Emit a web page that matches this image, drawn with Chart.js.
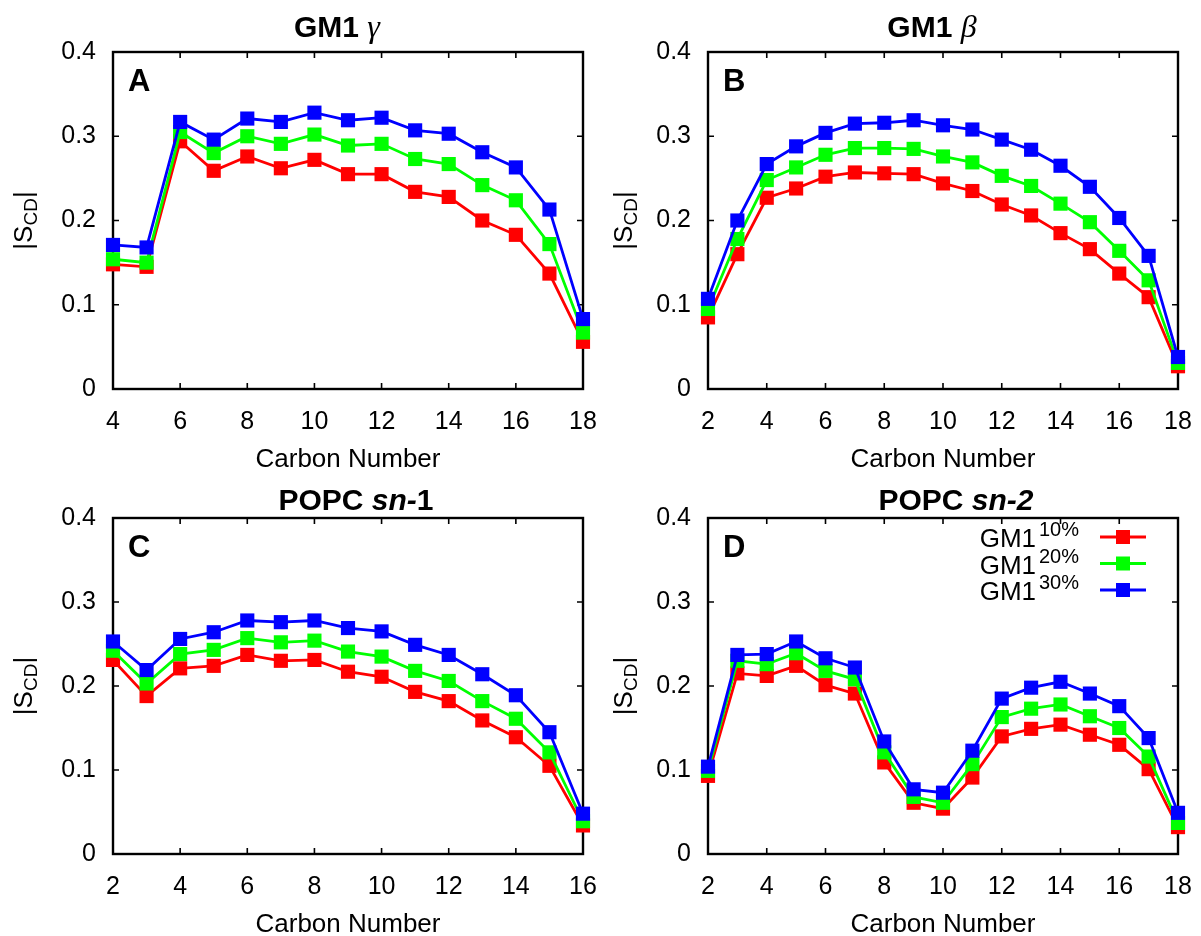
<!DOCTYPE html>
<html lang="en">
<head>
<meta charset="UTF-8">
<title>|S_CD| order parameters</title>
<script src="https://cdn.jsdelivr.net/npm/chart.js@4.4.1/dist/chart.umd.min.js"></script>
<style>
    body { margin: 0; background: #fff; width: 1201px; height: 936px; position: relative; overflow: hidden; }
    canvas { position: absolute; }
</style>
</head>
<body>
<canvas id="chartA" width="600" height="468" style="left:0;top:0"></canvas>
<canvas id="chartB" width="601" height="468" style="left:600px;top:0"></canvas>
<canvas id="chartC" width="600" height="468" style="left:0;top:468px"></canvas>
<canvas id="chartD" width="601" height="468" style="left:600px;top:468px"></canvas>
<script>
// series names (legend: GM1 with superscript concentration)
const seriesNames = ['GM1', 'GM1', 'GM1'];
const seriesSup = ['10%', '20%', '30%'];
const seriesColors = ['#ff0000', '#00ff00', '#0000ff'];

const yTicks = [0, 0.1, 0.2, 0.3, 0.4];

// A: GM1 gamma chain
const carbonA = [4, 5, 6, 7, 8, 9, 10, 11, 12, 13, 14, 15, 16, 17, 18];
const redA   = [0.148, 0.145, 0.294, 0.259, 0.276, 0.262, 0.272, 0.255, 0.255, 0.234, 0.228, 0.200, 0.183, 0.137, 0.056];
const greenA = [0.154, 0.150, 0.305, 0.280, 0.300, 0.291, 0.302, 0.289, 0.291, 0.273, 0.267, 0.242, 0.224, 0.172, 0.067];
const blueA  = [0.171, 0.168, 0.317, 0.296, 0.321, 0.317, 0.328, 0.319, 0.322, 0.307, 0.303, 0.281, 0.263, 0.213, 0.083];

// B: GM1 beta chain
const carbonB = [2, 3, 4, 5, 6, 7, 8, 9, 10, 11, 12, 13, 14, 15, 16, 17, 18];
const redB   = [0.085, 0.160, 0.227, 0.238, 0.252, 0.257, 0.256, 0.255, 0.244, 0.235, 0.219, 0.206, 0.185, 0.166, 0.137, 0.109, 0.027];
const greenB = [0.095, 0.178, 0.248, 0.263, 0.278, 0.286, 0.286, 0.285, 0.276, 0.269, 0.253, 0.241, 0.220, 0.198, 0.164, 0.129, 0.031];
const blueB  = [0.107, 0.200, 0.267, 0.288, 0.304, 0.315, 0.316, 0.319, 0.313, 0.308, 0.296, 0.284, 0.265, 0.240, 0.203, 0.158, 0.038];

// C: POPC sn-1
const carbonC = [2, 3, 4, 5, 6, 7, 8, 9, 10, 11, 12, 13, 14, 15, 16];
const redC   = [0.231, 0.188, 0.221, 0.224, 0.237, 0.230, 0.231, 0.217, 0.211, 0.193, 0.182, 0.159, 0.139, 0.105, 0.034];
const greenC = [0.242, 0.203, 0.238, 0.243, 0.257, 0.252, 0.254, 0.241, 0.235, 0.218, 0.206, 0.182, 0.161, 0.121, 0.039];
const blueC  = [0.253, 0.219, 0.256, 0.264, 0.278, 0.276, 0.278, 0.269, 0.265, 0.249, 0.237, 0.214, 0.189, 0.145, 0.048];

// D: POPC sn-2
const carbonD = [2, 3, 4, 5, 6, 7, 8, 9, 10, 11, 12, 13, 14, 15, 16, 17, 18];
const redD   = [0.093, 0.215, 0.212, 0.224, 0.201, 0.191, 0.109, 0.061, 0.054, 0.091, 0.140, 0.149, 0.154, 0.142, 0.130, 0.101, 0.032];
const greenD = [0.099, 0.230, 0.226, 0.239, 0.218, 0.208, 0.121, 0.068, 0.061, 0.107, 0.163, 0.173, 0.178, 0.164, 0.150, 0.116, 0.037];
const blueD  = [0.104, 0.237, 0.238, 0.253, 0.233, 0.222, 0.134, 0.077, 0.073, 0.123, 0.185, 0.198, 0.205, 0.191, 0.176, 0.138, 0.049];

const SANS = '"Liberation Sans", Arial, Helvetica, sans-serif';
const SERIF = '"Liberation Serif", "Times New Roman", serif';

const panels = [
    { id: 'chartA', letter: 'A', carbons: carbonA, series: [redA, greenA, blueA],
      title: [['GM1 ', 'bold 30px ' + SANS], ['\u03b3', 'italic 32px ' + SERIF]],
      box: { left: 113, right: 583, top: 52, bottom: 389 }, titleShift: -11, titleGap: 15, legend: false },
    { id: 'chartB', letter: 'B', carbons: carbonB, series: [redB, greenB, blueB],
      title: [['GM1 ', 'bold 30px ' + SANS], ['\u03b2', 'italic 32px ' + SERIF]],
      box: { left: 108, right: 578, top: 52, bottom: 389 }, titleShift: -11, titleGap: 15, legend: false },
    { id: 'chartC', letter: 'C', carbons: carbonC, series: [redC, greenC, blueC],
      title: [['POPC ', 'bold 30px ' + SANS], ['sn-', 'italic bold 30px ' + SANS], ['1', 'bold 30px ' + SANS]],
      box: { left: 113, right: 583, top: 50, bottom: 386 }, titleShift: 8, titleGap: 8, legend: false },
    { id: 'chartD', letter: 'D', carbons: carbonD, series: [redD, greenD, blueD],
      title: [['POPC ', 'bold 30px ' + SANS], ['sn-2', 'italic bold 30px ' + SANS]],
      box: { left: 108, right: 578, top: 50, bottom: 386 }, titleShift: 13, titleGap: 8, legend: true }
];

function drawRun(ctx, parts, x, y) {
    parts.forEach(([text, font]) => {
        ctx.font = font;
        ctx.fillText(text, x, y);
        x += ctx.measureText(text).width;
    });
}
function runWidth(ctx, parts) {
    return parts.reduce((w, [text, font]) => { ctx.font = font; return w + ctx.measureText(text).width; }, 0);
}

const gnuFrame = {
    id: 'gnuFrame',
    beforeDatasetsDraw(chart) {
        const { ctx, chartArea: a, scales: { x, y } } = chart;
        ctx.save();
        ctx.strokeStyle = '#000';
        ctx.lineWidth = 1.6;
        ctx.beginPath();
        x.ticks.forEach(t => {
            const px = x.getPixelForValue(t.value);
            ctx.moveTo(px, a.bottom); ctx.lineTo(px, a.bottom - 6);
            ctx.moveTo(px, a.top); ctx.lineTo(px, a.top + 6);
        });
        y.ticks.forEach(t => {
            const py = y.getPixelForValue(t.value);
            ctx.moveTo(a.left, py); ctx.lineTo(a.left + 6, py);
            ctx.moveTo(a.right, py); ctx.lineTo(a.right - 6, py);
        });
        ctx.stroke();
        ctx.lineWidth = 2.4;
        ctx.strokeRect(a.left, a.top, a.right - a.left, a.bottom - a.top);
        ctx.restore();
    },
    afterDraw(chart, args, opts) {
        const { ctx, chartArea: a } = chart;
        const p = opts.panel;
        const cx = (a.left + a.right) / 2;
        ctx.save();
        ctx.fillStyle = '#000';
        ctx.textBaseline = 'alphabetic';
        ctx.textAlign = 'left';

        // panel title
        const tw = runWidth(ctx, p.title);
        drawRun(ctx, p.title, cx + p.titleShift - tw / 2, a.top - p.titleGap);

        // panel letter
        ctx.font = 'bold 31px ' + SANS;
        ctx.fillText(p.letter, a.left + 15, a.top + 39);

        // x axis title
        ctx.font = '26px ' + SANS;
        ctx.textAlign = 'center';
        ctx.fillText('Carbon Number', cx, a.bottom + 78);

        // y axis title |S_CD|
        ctx.save();
        ctx.translate(32, (a.top + a.bottom) / 2);
        ctx.rotate(-Math.PI / 2);
        ctx.textAlign = 'left';
        const yParts = [['|S', '26px ' + SANS, 0], ['CD', '19px ' + SANS, 5], ['|', '26px ' + SANS, 0]];
        let w = 0;
        yParts.forEach(([t, f]) => { ctx.font = f; w += ctx.measureText(t).width; });
        let tx = -w / 2;
        yParts.forEach(([t, f, dy]) => { ctx.font = f; ctx.fillText(t, tx, dy); tx += ctx.measureText(t).width; });
        ctx.restore();

        // legend
        if (p.legend) {
            chart.data.datasets.forEach((ds, i) => {
                const ry = a.top + 19 + i * 26.5;
                ctx.textAlign = 'right';
                ctx.font = '26px ' + SANS;
                ctx.fillText(seriesNames[i], a.right - 142, ry + 10);
                ctx.textAlign = 'left';
                ctx.font = '20px ' + SANS;
                ctx.fillText(seriesSup[i], a.right - 139, ry - 1);
                ctx.strokeStyle = ds.borderColor;
                ctx.lineWidth = ds.borderWidth;
                ctx.beginPath();
                ctx.moveTo(a.right - 78, ry);
                ctx.lineTo(a.right - 32, ry);
                ctx.stroke();
                ctx.fillStyle = ds.borderColor;
                ctx.fillRect(a.right - 55 - 7, ry - 7, 14, 14);
                ctx.fillStyle = '#000';
            });
        }
        ctx.restore();
    }
};

panels.forEach(p => {
    const canvas = document.getElementById(p.id);
    const W = canvas.width, H = canvas.height;
    const datasets = p.series.map((vals, i) => ({
        label: seriesNames[i] + ' ' + seriesSup[i],
        data: p.carbons.map((c, k) => ({ x: c, y: vals[k] })),
        borderColor: seriesColors[i],
        backgroundColor: seriesColors[i],
        pointBackgroundColor: seriesColors[i],
        borderWidth: 2.8,
        pointStyle: 'rect',
        pointRadius: 10,
        pointHoverRadius: 10,
        pointBorderWidth: 0,
        tension: 0,
        clip: false,
        order: 3 - i
    }));
    new Chart(canvas, {
        type: 'line',
        data: { datasets },
        plugins: [gnuFrame],
        options: {
            responsive: false,
            animation: false,
            devicePixelRatio: 1,
            events: [],
            layout: { padding: { top: p.box.top, right: W - p.box.right, left: 0, bottom: 0 } },
            plugins: {
                legend: { display: false },
                title: { display: false },
                tooltip: { enabled: false },
                gnuFrame: { panel: p }
            },
            scales: {
                x: {
                    type: 'linear',
                    min: p.carbons[0],
                    max: p.carbons[p.carbons.length - 1],
                    // tick marks are drawn by gnuFrame; tickLength only offsets the labels
                    grid: { display: false, drawTicks: true, tickLength: 18 },
                    border: { display: false },
                    ticks: { stepSize: 2, color: '#000', padding: 0, maxRotation: 0,
                              font: { family: SANS, size: 25 } },
                    afterFit: s => { s.height = H - p.box.bottom; }
                },
                y: {
                    min: yTicks[0],
                    max: yTicks[yTicks.length - 1],
                    grid: { display: false, drawTicks: false },
                    border: { display: false },
                    afterBuildTicks: s => { s.ticks = yTicks.map(v => ({ value: v })); },
                    ticks: { color: '#000', padding: 17, font: { family: SANS, size: 25 } },
                    afterFit: s => { s.width = p.box.left; }
                }
            }
        }
    });
});
</script>
</body>
</html>
